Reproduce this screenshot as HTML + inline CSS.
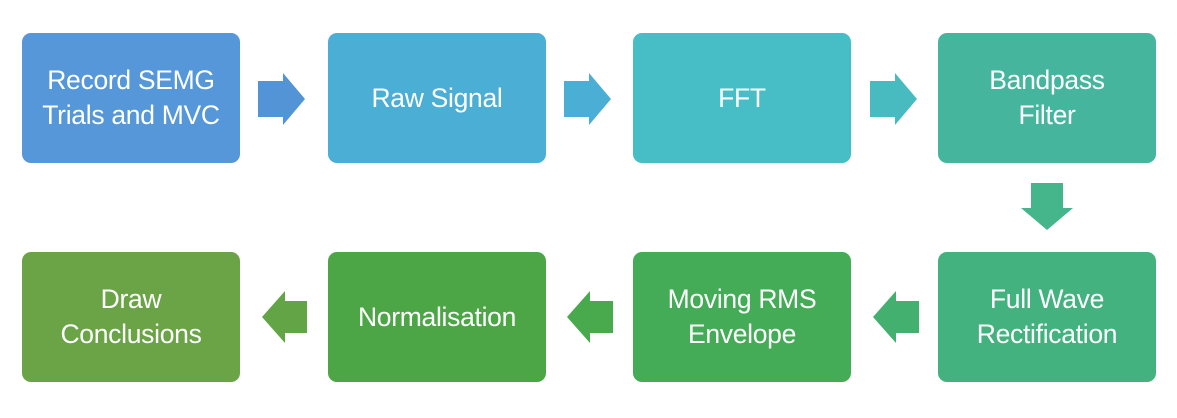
<!DOCTYPE html>
<html><head><style>
body{margin:0;width:1177px;height:418px;background:#fff;position:relative;overflow:hidden;font-family:"Liberation Sans",sans-serif}
.b{position:absolute;width:218px;height:130px;border-radius:9px;color:#fff;display:flex;align-items:center;justify-content:center;text-align:center;font-size:26.5px;line-height:35px;letter-spacing:-0.3px}
svg{position:absolute;left:0;top:0}
</style></head><body>
<div class="b" style="left:22px;top:33px;background:#5597d8">Record SEMG<br>Trials and MVC</div>
<div class="b" style="left:328px;top:33px;background:#4aaed5">Raw Signal</div>
<div class="b" style="left:633px;top:33px;background:#47bec6">FFT</div>
<div class="b" style="left:938px;top:33px;background:#45b69d">Bandpass<br>Filter</div>
<div class="b" style="left:938px;top:252px;background:#43b27f">Full Wave<br>Rectification</div>
<div class="b" style="left:633px;top:252px;background:#44ac56">Moving RMS<br>Envelope</div>
<div class="b" style="left:328px;top:252px;background:#4ca646">Normalisation</div>
<div class="b" style="left:22px;top:252px;background:#6aa446">Draw<br>Conclusions</div>
<svg width="1177" height="418">
<polygon points="258,81 283,81 283,73 305,99 283,125 283,117 258,117" fill="#5294d6"/>
<polygon points="564,81 589,81 589,73 611,99 589,125 589,117 564,117" fill="#4aaed5"/>
<polygon points="870,81 895,81 895,73 917,99 895,125 895,117 870,117" fill="#47bbc0"/>
<polygon points="1031,183 1063,183 1063,208 1073,208 1047,230 1021,208 1031,208" fill="#45b68c"/>
<polygon points="919,301 896,301 896,291 873,317 896,343 896,333 919,333" fill="#43b070"/>
<polygon points="613,301 590,301 590,291 567,317 590,343 590,333 613,333" fill="#48aa4c"/>
<polygon points="307,301 285,301 285,291 262,317 285,343 285,333 307,333" fill="#62a446"/>
</svg>
</body></html>
